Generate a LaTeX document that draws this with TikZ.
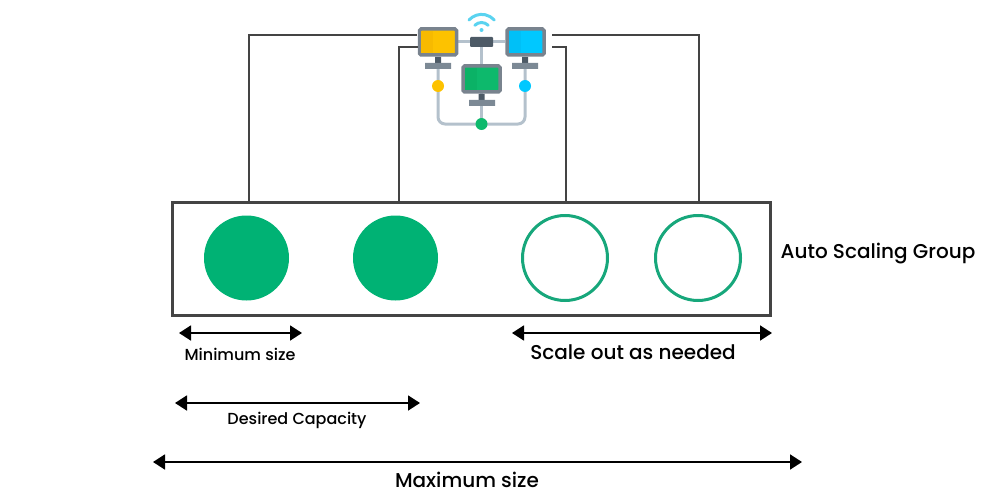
\documentclass[tikz,border=0pt]{standalone}
\usepackage{fontspec}
\setmainfont{Poppins}[UprightFont=* Medium]
\usetikzlibrary{arrows.meta}
\definecolor{fillgreen}{HTML}{00B274}
\definecolor{ringgreen}{HTML}{17A77B}
\definecolor{boxgray}{HTML}{444444}
\definecolor{screengray}{HTML}{79838E}
\definecolor{standgray}{HTML}{7C8995}
\definecolor{neckgray}{HTML}{4D5A66}
\definecolor{wiregray}{HTML}{B4C1CC}
\definecolor{yellowpc}{HTML}{FDC200}
\definecolor{yellowdark}{HTML}{F7BA00}
\definecolor{bluepc}{HTML}{00C8FF}
\definecolor{bluedark}{HTML}{00C0F7}
\definecolor{greenpc}{HTML}{0DB96C}
\definecolor{greendark}{HTML}{0BB266}
\definecolor{wifiblue}{HTML}{5AD3F0}
\tikzset{
  full/.style={circle, fill=fillgreen, minimum size=85, inner sep=0},
  ring/.style={circle, draw=ringgreen, line width=3, fill=white, minimum size=85, inner sep=0},
  link/.style={draw=boxgray, line width=1.6},
  span/.style={black, line width=1.8, {Triangle[length=12, width=15]}-{Triangle[length=12, width=15]}},
  pc/.style={draw=screengray, line width=3.5, rounded corners=1.5, minimum width=37, minimum height=26, inner sep=0},
  wire/.style={wiregray, line width=3},
  dot/.style={circle, minimum size=12, inner sep=0},
  lbl/.style={inner sep=0, text=black}
}
\begin{document}
\begin{tikzpicture}[x=1pt, y=-1pt]
\useasboundingbox (0,0) rectangle (1000,500);
% network icon
\draw[wire, rounded corners=7] (438,60) -- (438,124) -- (525,124) -- (525,60);
\draw[wire] (458,42) -- (505,42);
\draw[wire] (481.5,42) -- (481.5,124);
\node[pc, fill=yellowpc] (pcA) at (438,42) {};
\node[pc, fill=bluepc] (pcB) at (525.5,42) {};
\node[pc, fill=greenpc] (pcC) at (481.5,79) {};
\fill[yellowdark] (421.3,30.8) rectangle (433,53.2);
\fill[bluedark] (508.8,30.8) rectangle (520.5,53.2);
\fill[greendark] (464.8,67.8) rectangle (476.5,90.2);
\fill[neckgray] (435,57) rectangle (441,63) (522,57) rectangle (528,63) (478.5,94) rectangle (484.5,100);
\fill[standgray] (425,63) rectangle (451,69) (512,63) rectangle (538,69) (469,100) rectangle (495,106);
\node[fill=neckgray, rounded corners=1, minimum width=23, minimum height=10, inner sep=0] (router) at (481.5,42) {};
\node[dot, fill=yellowpc] (dotA) at (438,86) {};
\node[dot, fill=bluepc] (dotB) at (525,86) {};
\node[dot, fill=greenpc] (dotC) at (481.5,124) {};
\fill[wifiblue] (481.5,30) circle (2);
\draw[wifiblue, line width=3, line cap=round] (474.8,25.3) arc (225:315:9.5);
\draw[wifiblue, line width=3, line cap=round] (469,20) arc (222:318:17);
% group
\node[draw=boxgray, line width=3, minimum width=598, minimum height=113, inner sep=0] (group) at (471.5,258.5) {};
\node[full] (c1) at (246.5,258) {};
\node[full] (c2) at (395.5,258) {};
\node[ring] (c3) at (565,258) {};
\node[ring] (c4) at (698,258) {};
\node[lbl, font=\fontsize{20}{22}\selectfont] (asg) at (878,254) {Auto Scaling Group};
% links
\coordinate (l1) at (417,35);
\coordinate (l2) at (418,47);
\coordinate (r1) at (552,35);
\coordinate (r2) at (552,47);
\coordinate (t1) at (249,201);
\coordinate (t2) at (399,201);
\coordinate (t3) at (566,201);
\coordinate (t4) at (699,201);
\draw[link] (l1) -| (t1);
\draw[link] (l2) -| (t2);
\draw[link] (r2) -| (t3);
\draw[link] (r1) -| (t4);
% sizes
\coordinate (a1) at (179,333);
\coordinate (a2) at (302,333);
\coordinate (b1) at (512,333);
\coordinate (b2) at (772,333);
\coordinate (d1) at (175,403);
\coordinate (d2) at (420,403);
\coordinate (m1) at (153,462);
\coordinate (m2) at (802,462);
\draw[span] (a1) -- (a2);
\draw[span] (b1) -- (b2);
\draw[span] (d1) -- (d2);
\draw[span] (m1) -- (m2);
\node[lbl, font=\fontsize{16}{18}\selectfont] (minl) at (240,354) {Minimum size};
\node[lbl, font=\fontsize{20}{22}\selectfont] (outl) at (633,352) {Scale out as needed};
\node[lbl, font=\fontsize{16}{18}\selectfont] (desl) at (297,420) {Desired Capacity};
\node[lbl, font=\fontsize{20}{22}\selectfont] (maxl) at (467,480) {Maximum size};
\end{tikzpicture}
\end{document}
